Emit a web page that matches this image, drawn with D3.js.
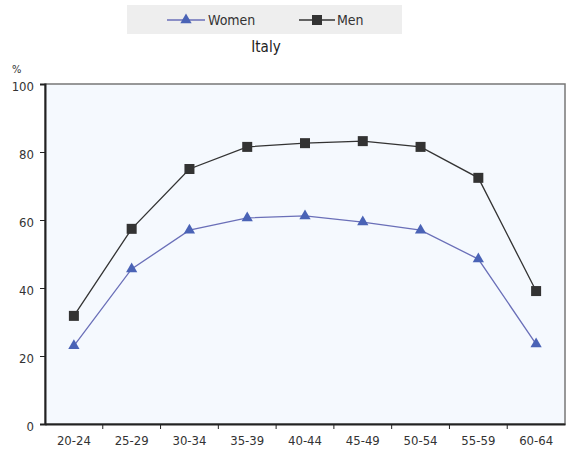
<!DOCTYPE html>
<html><head><meta charset="utf-8">
<script src="https://cdn.jsdelivr.net/npm/d3@7"></script>
<style>body{margin:0;background:#fff;}text{font-family:"DejaVu Sans Condensed","Liberation Sans",Arial,sans-serif;font-stretch:condensed;}</style>
</head><body>
<svg id="c" width="571" height="461"></svg>
<script>
const categories = ["20-24","25-29","30-34","35-39","40-44","45-49","50-54","55-59","60-64"];
const women = [23, 45.6, 57, 60.6, 61.2, 59.4, 57, 48.5, 23.5];
const men = [31.8, 57.4, 75, 81.5, 82.6, 83.2, 81.5, 72.4, 39.1];
const yTicks = [0, 20, 40, 60, 80, 100];
const seriesNames = ["Women", "Men"];

const svg = d3.select("#c");
const L = 45, R = 565, T = 84, B = 424;
const x = d3.scaleBand().domain(categories).range([L, R]);
const y = d3.scaleLinear().domain([0, 100]).range([B, T]);

// plot background
svg.append("rect").attr("x", L).attr("y", T).attr("width", R - L).attr("height", B - T)
  .attr("fill", "#f5f9fe").attr("stroke", "#777").attr("stroke-width", 1.5);

// y axis
const ya = svg.append("g").attr("transform", `translate(${L},0)`)
  .call(d3.axisLeft(y).tickValues(yTicks).tickSize(5).tickPadding(6));
ya.select(".domain").attr("stroke", "#222").attr("stroke-width", 2);
ya.selectAll("text").attr("font-size", 13).attr("fill", "#333").attr("dy", "0.5em");
ya.selectAll(".tick line").attr("stroke", "#222");

// x axis
const xa = svg.append("g").attr("transform", `translate(0,${B})`)
  .call(d3.axisBottom(x).tickSize(0).tickPadding(12));
xa.select(".domain").attr("stroke", "#222").attr("stroke-width", 2);
xa.selectAll("text").attr("font-size", 13).attr("fill", "#333");
// boundary ticks
xa.selectAll(".btick").data(categories.slice(1)).enter().append("line")
  .attr("x1", d => x(d)).attr("x2", d => x(d)).attr("y1", 0).attr("y2", 5)
  .attr("stroke", "#222");

// lines
const line = d3.line().x((d, i) => x(categories[i]) + x.bandwidth() / 2).y(d => y(d));
svg.append("path").datum(women).attr("d", line).attr("fill", "none").attr("stroke", "#6a6fb8").attr("stroke-width", 1.3);
svg.append("path").datum(men).attr("d", line).attr("fill", "none").attr("stroke", "#333").attr("stroke-width", 1.3);

const tri = d3.symbol().type(d3.symbolTriangle).size(55);
svg.selectAll(".w").data(women).enter().append("path")
  .attr("d", tri).attr("fill", "#4a63b6")
  .attr("transform", (d, i) => `translate(${x(categories[i]) + x.bandwidth() / 2},${y(d)})`);
svg.selectAll(".m").data(men).enter().append("rect")
  .attr("x", (d, i) => x(categories[i]) + x.bandwidth() / 2 - 5)
  .attr("y", d => y(d) - 5).attr("width", 10).attr("height", 10).attr("fill", "#333");

// legend
const lg = svg.append("g");
lg.append("rect").attr("x", 127).attr("y", 5).attr("width", 275).attr("height", 29).attr("fill", "#eeeeee");
lg.append("line").attr("x1", 167).attr("x2", 205).attr("y1", 20).attr("y2", 20).attr("stroke", "#6a6fb8").attr("stroke-width", 1.3);
lg.append("path").attr("d", tri).attr("fill", "#4a63b6").attr("transform", "translate(186,20)");
lg.append("text").attr("x", 208).attr("y", 25).attr("font-size", 14).attr("fill", "#333").text(seriesNames[0]);
lg.append("line").attr("x1", 299).attr("x2", 335).attr("y1", 20).attr("y2", 20).attr("stroke", "#333").attr("stroke-width", 1.3);
lg.append("rect").attr("x", 312).attr("y", 15).attr("width", 10).attr("height", 10).attr("fill", "#333");
lg.append("text").attr("x", 337).attr("y", 25).attr("font-size", 14).attr("fill", "#333").text(seriesNames[1]);

svg.append("text").attr("x", 266).attr("y", 52).attr("text-anchor", "middle").attr("font-size", 15).attr("fill", "#222").text("Italy");
svg.append("text").attr("x", 12).attr("y", 73).attr("font-size", 11).attr("fill", "#333").text("%");
</script>
</body></html>
